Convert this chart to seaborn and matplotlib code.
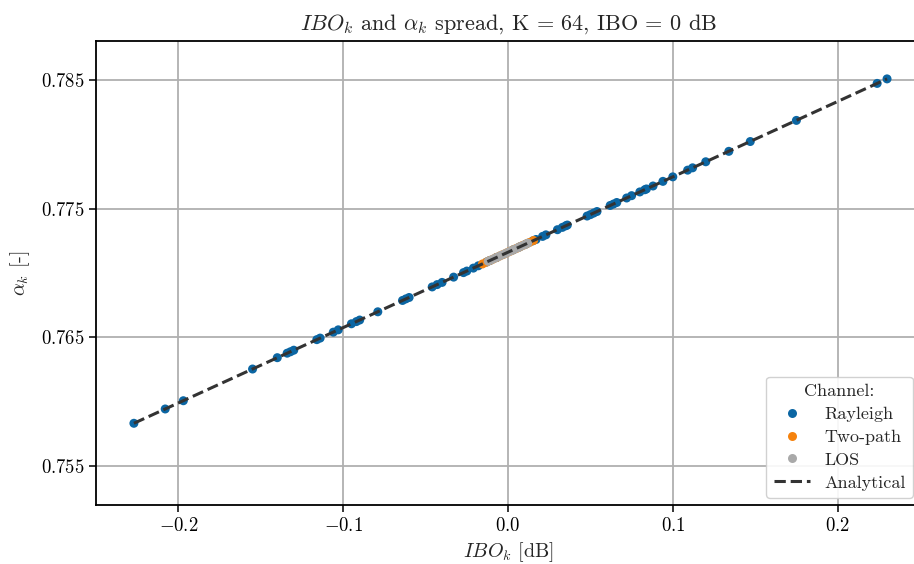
import numpy as np
import pandas as pd
import seaborn as sns
import matplotlib.pyplot as plt

# === DATA ===
rayleigh_ibo = [-0.227, -0.208, -0.197, -0.155, -0.140, -0.134, -0.132, -0.130,
                -0.116, -0.114, -0.106, -0.103, -0.095, -0.092, -0.090, -0.079,
                -0.064, -0.062, -0.060, -0.046, -0.043, -0.040, -0.033, -0.027,
                -0.025, -0.021, -0.018, -0.013, -0.011, -0.007, 0.003, 0.007,
                0.011, 0.015, 0.017, 0.021, 0.023, 0.030, 0.033, 0.035,
                0.036, 0.048, 0.050, 0.052, 0.054, 0.062, 0.064, 0.066,
                0.072, 0.075, 0.080, 0.083, 0.084, 0.088, 0.094, 0.100,
                0.109, 0.112, 0.120, 0.134, 0.147, 0.175, 0.224, 0.230]
rayleigh_alpha = [0.75834, 0.75945, 0.76009, 0.76255, 0.76343, 0.76378, 0.76389, 0.76401,
                  0.76483, 0.76495, 0.76541, 0.76559, 0.76606, 0.76623, 0.76635, 0.76699,
                  0.76787, 0.76799, 0.76810, 0.76892, 0.76910, 0.76927, 0.76968, 0.77003,
                  0.77015, 0.77038, 0.77056, 0.77085, 0.77097, 0.77120, 0.77179, 0.77202,
                  0.77225, 0.77249, 0.77260, 0.77284, 0.77296, 0.77336, 0.77354, 0.77366,
                  0.77372, 0.77442, 0.77453, 0.77465, 0.77477, 0.77524, 0.77535, 0.77547,
                  0.77582, 0.77600, 0.77629, 0.77646, 0.77652, 0.77675, 0.77711, 0.77746,
                  0.77798, 0.77816, 0.77863, 0.77944, 0.78020, 0.78184, 0.78471, 0.78506]

twopath_ibo = [-0.0155, -0.013, -0.011, -0.009, -0.007, -0.005, -0.003, -0.001,
               0.001, 0.003, 0.005, 0.007, 0.009, 0.011, 0.013, 0.0155]
twopath_alpha = [0.77070, 0.77085, 0.77097, 0.77108, 0.77120, 0.77132, 0.77143, 0.77155,
                 0.77167, 0.77179, 0.77190, 0.77202, 0.77214, 0.77225, 0.77237, 0.77252]

los_ibo = [-0.012, -0.010, -0.008, -0.006, -0.004, -0.002, 0.0,
           0.002, 0.004, 0.006, 0.008, 0.010, 0.012]
los_alpha = [0.77091, 0.77103, 0.77114, 0.77126, 0.77138, 0.77149, 0.77161,
             0.77173, 0.77184, 0.77196, 0.77208, 0.77219, 0.77231]

analytical_ibo = [-0.227, 0.230]
analytical_alpha = [0.75834, 0.78506]

channels = ["Rayleigh", "Two-path", "LOS"]
colors = ["#0b66a3", "#f5820d", "#a9a9a9"]

# === Style ===
sns.set_theme(style="ticks")
plt.rcParams["font.family"] = "serif"
plt.rcParams["font.serif"] = ["cmr10"]
plt.rcParams["mathtext.fontset"] = "cm"
plt.rcParams["axes.formatter.use_mathtext"] = True
plt.rcParams["axes.unicode_minus"] = True

df = pd.concat([
    pd.DataFrame({"IBO": rayleigh_ibo, "alpha": rayleigh_alpha, "Channel": channels[0]}),
    pd.DataFrame({"IBO": twopath_ibo, "alpha": twopath_alpha, "Channel": channels[1]}),
    pd.DataFrame({"IBO": los_ibo, "alpha": los_alpha, "Channel": channels[2]}),
])

fig = plt.figure(figsize=(9.14, 5.64), dpi=100)
ax = fig.add_axes([96 / 914, 59 / 564, 824 / 914, 464 / 564])

sns.scatterplot(data=df, x="IBO", y="alpha", hue="Channel", hue_order=channels,
                palette=colors, s=42, linewidth=0, ax=ax, zorder=3)
sns.lineplot(x=analytical_ibo, y=analytical_alpha, color="#333333", lw=2.2,
             linestyle="--", label="Analytical", ax=ax, zorder=4)

ax.set_xlim(-0.25, 0.25)
ax.set_ylim(0.752, 0.788)
ax.set_xticks([-0.2, -0.1, 0.0, 0.1, 0.2])
ax.set_yticks([0.755, 0.765, 0.775, 0.785])
ax.grid(True, color="#b0b0b0", lw=1.3)
for sp in ax.spines.values():
    sp.set_color("black")
    sp.set_linewidth(1.3)
ax.tick_params(labelsize=13.5, colors="black", length=5, width=1.1)

ax.set_title(r"$IBO_k$ and $\alpha_k$ spread, K = 64, IBO = 0 dB", fontsize=16, pad=8)
ax.set_xlabel(r"$IBO_k$ [dB]", fontsize=14.5, labelpad=4)
ax.set_ylabel(r"$\alpha_k$ [-]", fontsize=14.5, labelpad=6)

ax.legend(title="Channel:", loc="lower right", fontsize=13, title_fontsize=13,
          frameon=True, edgecolor="#cccccc", framealpha=0.9, borderaxespad=0.4,
          labelspacing=0.4)

plt.savefig("out.png", dpi=100)
